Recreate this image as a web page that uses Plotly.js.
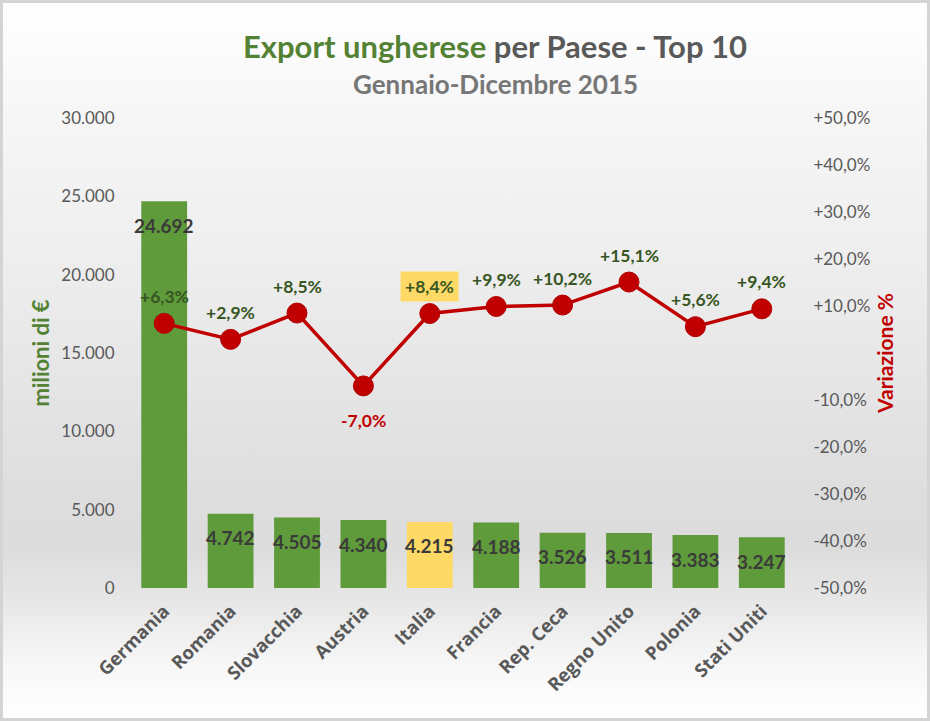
<!DOCTYPE html>
<html><head><meta charset="utf-8">
<script src="https://cdn.plot.ly/plotly-3.0.1.min.js"></script>
<style>
html,body{margin:0;padding:0;background:#fff;}
#wrap{position:relative;width:930px;height:721px;overflow:hidden;}
#bg{position:absolute;left:0;top:0;width:930px;height:721px;box-sizing:border-box;border:3px solid #d4d4d4;
background:linear-gradient(to bottom,#ffffff 0%,#f7f7f7 14%,#ececec 40%,#dedede 68%,#dcdcdc 76%,#e6e6e6 83%,#f6f6f6 92%,#ffffff 100%);}
#chart{position:absolute;left:0;top:0;width:930px;height:721px;}
</style></head><body>
<div id="wrap"><div id="bg"></div><div id="chart"></div></div>
<script>
const countries = ["Germania","Romania","Slovacchia","Austria","Italia","Francia","Rep. Ceca","Regno Unito","Polonia","Stati Uniti"];
const exportValues = [24692,4742,4505,4340,4215,4188,3526,3511,3383,3247];
const variations = [6.3,2.9,8.5,-7.0,8.4,9.9,10.2,15.1,5.6,9.4];
const leftTickVals = [0,5000,10000,15000,20000,25000,30000];
const rightTickVals = [-50,-40,-30,-20,-10,10,20,30,40,50];
const highlight = "Italia";

const GREEN = "#5f9a3b", YELLOW = "#ffd966", RED = "#c00000";
const fmtThousands = n => String(n).replace(/\B(?=(\d{3})+(?!\d))/g, ".");
const fmtPct = v => (v > 0 ? "+" : "-") + Math.abs(v).toFixed(1).replace(".", ",") + "%";
const rightTickText = rightTickVals.map(fmtPct);

const barTrace = {
  type: "bar", x: countries, y: exportValues, yaxis: "y",
  marker: {color: countries.map(c => c === highlight ? YELLOW : GREEN)},
  hoverinfo: "skip"
};
const lineTrace = {
  type: "scatter", mode: "lines+markers", x: countries, y: variations, yaxis: "y2",
  line: {color: RED, width: 3.5},
  marker: {color: RED, size: 20, line: {color: "#b00000", width: 1}},
  hoverinfo: "skip"
};

const annotations = [];
countries.forEach((c, i) => {
  annotations.push({
    x: c, y: exportValues[i], xref: "x", yref: "y", yanchor: "middle", yshift: -24,
    text: fmtThousands(exportValues[i]), showarrow: false,
    font: {family: "Lato", size: 19, color: "#3a3a3a", weight: "bold"}
  });
  const v = variations[i];
  annotations.push({
    x: c, y: v, xref: "x", yref: "y2", yanchor: "middle", yshift: v >= 0 ? 27 : -35,
    text: fmtPct(v), showarrow: false,
    bgcolor: c === highlight ? YELLOW : "rgba(0,0,0,0)", borderpad: 4,
    font: {family: "Lato", size: 17.5, color: v >= 0 ? "#375623" : RED, weight: "bold"}
  });
});
annotations.push({
  text: "Gennaio-Dicembre 2015", xref: "paper", yref: "paper",
  x: (495 - 131) / 664, y: (588 - 84) / 470, xanchor: "center", yanchor: "middle", showarrow: false,
  font: {family: "Lato", size: 26, color: "#767676", weight: "bold"}
});

const layout = {
  width: 930, height: 721,
  margin: {l: 131, r: 135, t: 118, b: 133},
  paper_bgcolor: "rgba(0,0,0,0)", plot_bgcolor: "rgba(0,0,0,0)",
  separators: ",.",
  showlegend: false,
  bargap: 0.31,
  title: {
    text: '<span style="color:#548235">Export ungherese</span> per Paese - Top 10',
    font: {family: "Lato", size: 31, color: "#595959", weight: "bold"},
    x: 495 / 930, xanchor: "center", y: 1 - 47 / 721, yanchor: "middle"
  },
  xaxis: {
    type: "category", range: [-0.5, countries.length - 0.5],
    tickangle: -45, showgrid: false, zeroline: false, showline: false, automargin: false,
    ticks: "outside", ticklen: 4, tickcolor: "rgba(0,0,0,0)",
    tickfont: {family: "Open Sans", size: 18.5, color: "#595959", weight: "bold"}
  },
  yaxis: {
    range: [0, 30000], tickvals: leftTickVals, tickformat: ",d", automargin: false,
    showgrid: false, zeroline: false, showline: false,
    ticks: "outside", ticklen: 12, tickcolor: "rgba(0,0,0,0)",
    tickfont: {family: "Lato", size: 17, color: "#595959"},
    title: {text: "milioni di €", standoff: 5, font: {family: "Lato", size: 22, color: "#548235", weight: "bold"}}
  },
  yaxis2: {
    overlaying: "y", side: "right", range: [-50, 50], automargin: false,
    tickvals: rightTickVals, ticktext: rightTickText,
    showgrid: false, zeroline: false, showline: false,
    ticks: "outside", ticklen: 14, tickcolor: "rgba(0,0,0,0)",
    tickfont: {family: "Lato", size: 17, color: "#595959"},
    title: {text: "Variazione %", standoff: 8, font: {family: "Lato", size: 21, color: RED, weight: "bold"}}
  },
  annotations: annotations
};

Plotly.newPlot("chart", [barTrace, lineTrace], layout, {displayModeBar: false, staticPlot: true});
</script>
</body></html>
